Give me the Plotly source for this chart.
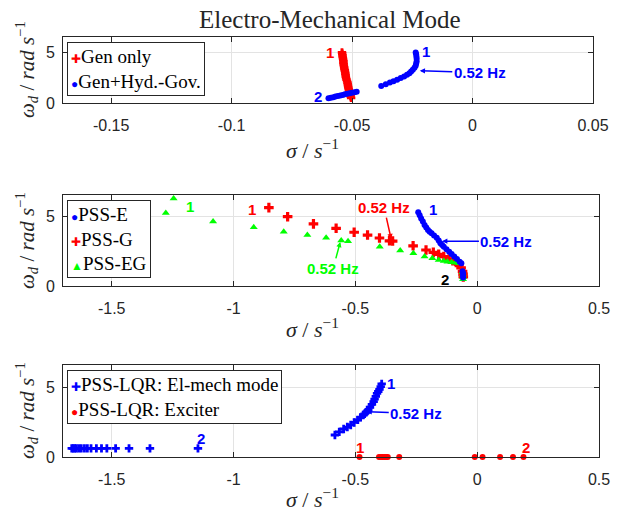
import plotly.graph_objects as go

W, H = 625, 517

# ---------------- data ----------------
# Panel 1: Electro-mechanical mode
gen_only_sigma = [-0.0542, -0.0541, -0.0540, -0.0539, -0.0538, -0.0537, -0.0536, -0.0536, -0.0535, -0.0534,
                  -0.0533, -0.0532, -0.0530, -0.0529, -0.0528, -0.0527, -0.0526, -0.0525, -0.0523, -0.0521,
                  -0.0519, -0.0518, -0.0517, -0.0516, -0.0514, -0.0513, -0.0511, -0.0510, -0.0508, -0.0506, -0.0504]
gen_only_omega = [4.98, 4.85, 4.70, 4.55, 4.40, 4.25, 4.10, 3.95, 3.80, 3.65,
                  3.50, 3.35, 3.20, 3.05, 2.90, 2.75, 2.60, 2.45, 2.30, 2.15,
                  2.00, 1.85, 1.70, 1.55, 1.40, 1.25, 1.10, 0.95, 0.80, 0.65, 0.50]
gen_hyd_sigma = [-0.0236, -0.0234, -0.0233, -0.0232, -0.0232, -0.0234, -0.0236, -0.0241, -0.0248, -0.0255,
                 -0.0262, -0.0272, -0.0284, -0.0298, -0.0313, -0.0328, -0.0343, -0.0360, -0.0379,
                 -0.0481, -0.0490, -0.0500, -0.0510, -0.0520, -0.0530, -0.0539, -0.0549, -0.0559, -0.0569,
                 -0.0578, -0.0588, -0.0598]
gen_hyd_omega = [4.98, 4.80, 4.59, 4.35, 4.09, 3.88, 3.66, 3.47, 3.27, 3.10,
                 2.94, 2.78, 2.61, 2.45, 2.28, 2.14, 2.01, 1.85, 1.68,
                 1.12, 1.07, 1.01, 0.96, 0.90, 0.85, 0.79, 0.74, 0.68, 0.63,
                 0.57, 0.52, 0.46]

# Panel 2: PSS designs
pss_e_sigma = [-0.242, -0.236, -0.230, -0.223, -0.216, -0.209, -0.202, -0.195, -0.187, -0.177,
               -0.166, -0.158, -0.151, -0.144, -0.137, -0.126, -0.115, -0.105, -0.094, -0.083,
               -0.072, -0.065, -0.060, -0.058, -0.058, -0.058]
pss_e_omega = [5.26, 5.05, 4.83, 4.60, 4.36, 4.18, 4.00, 3.88, 3.76, 3.60,
               3.45, 3.25, 3.05, 2.93, 2.81, 2.63, 2.45, 2.28, 2.10, 1.92,
               1.74, 1.62, 1.05, 0.90, 0.75, 0.60]
pss_g_sigma = [-0.855, -0.778, -0.672, -0.579, -0.505, -0.450, -0.401, -0.360, -0.347, -0.263,
               -0.210, -0.180, -0.158, -0.137, -0.115, -0.100, -0.086, -0.075, -0.066, -0.060,
               -0.058, -0.057]
pss_g_omega = [5.60, 4.95, 4.44, 4.12, 3.84, 3.64, 3.43, 3.23, 3.21, 2.87,
               2.57, 2.40, 2.26, 2.10, 1.93, 1.81, 1.69, 1.55, 1.30, 1.05,
               0.85, 0.65]
pss_eg_sigma = [-1.246, -1.278, -1.084, -0.917, -0.794, -0.697, -0.620, -0.558, -0.530, -0.400,
                -0.316, -0.262, -0.216, -0.184, -0.158, -0.137, -0.122, -0.105, -0.090, -0.075,
                -0.060, -0.058, -0.058, -0.058]
pss_eg_omega = [6.25, 5.22, 4.60, 4.19, 3.88, 3.64, 3.45, 3.25, 3.19, 2.81,
                2.54, 2.34, 2.10, 1.98, 1.86, 1.79, 1.74, 1.70, 1.66, 1.62,
                1.00, 0.80, 0.62, 0.48]

# Panel 3: PSS-LQR
lqr_em_sigma = [-0.392, -0.396, -0.401, -0.406, -0.411, -0.416, -0.421, -0.425, -0.432, -0.440,
                -0.447, -0.455, -0.462, -0.468, -0.479, -0.490, -0.505, -0.519, -0.533, -0.548,
                -0.566, -0.584,
                -1.146, -1.343, -1.429, -1.484, -1.520, -1.542, -1.563, -1.585, -1.600, -1.612,
                -1.625, -1.635, -1.645, -1.652, -1.658, -1.664]
lqr_em_omega = [5.24, 5.05, 4.85, 4.70, 4.57, 4.35, 4.15, 3.97, 3.78, 3.57,
                3.37, 3.22, 3.10, 3.01, 2.84, 2.66, 2.48, 2.30, 2.15, 2.01,
                1.80, 1.58,
                0.62, 0.62, 0.62, 0.62, 0.62, 0.62, 0.62, 0.62, 0.62, 0.62,
                0.62, 0.62, 0.62, 0.62, 0.62, 0.62]
lqr_exc_sigma = [-0.483, -0.403, -0.395, -0.388, -0.381, -0.374, -0.367, -0.320, -0.010, 0.022, 0.094, 0.147, 0.190]
lqr_exc_omega = [0, 0, 0, 0, 0, 0, 0, 0, 0, 0, 0, 0, 0]

# ticks
p1_xticks = [-0.15, -0.1, -0.05, 0, 0.05]
p1_xticklabels = ["-0.15", "-0.1", "-0.05", "0", "0.05"]
p23_xticks = [-1.5, -1, -0.5, 0, 0.5]
p23_xticklabels = ["-1.5", "-1", "-0.5", "0", "0.5"]
yticks = [0, 5]
yticklabels = ["0", "5"]

RED, BLUE, GREEN, BLACK = "#ff0000", "#0000ff", "#00ff00", "#000000"
AXC = "#262626"
SERIF = "Liberation Serif"
SANS = "Liberation Sans"

# ---------------- layout geometry (pixels) ----------------
def xdom(l, r):
    return [l / W, r / W]

def ydom(t, b):
    return [1 - b / H, 1 - t / H]

panels = [
    dict(x=xdom(63, 593), y=ydom(37, 103), xr=[-0.17, 0.05], yr=[0, 6.5], xt=p1_xticks, xl=p1_xticklabels),
    dict(x=xdom(63, 599), y=ydom(195, 286), xr=[-1.7, 0.5], yr=[0, 6.5], xt=p23_xticks, xl=p23_xticklabels),
    dict(x=xdom(63, 599), y=ydom(365, 457), xr=[-1.7, 0.5], yr=[0, 6.6], xt=p23_xticks, xl=p23_xticklabels),
]

fig = go.Figure()

def add(xs, ys, name, color, symbol, size, k):
    fig.add_trace(go.Scatter(
        x=xs, y=ys, mode="markers", name=name, showlegend=False, cliponaxis=False,
        marker=dict(color=color, symbol=symbol, size=size, line=dict(width=0)),
        xaxis="x" if k == 1 else f"x{k}", yaxis="y" if k == 1 else f"y{k}",
    ))

add(gen_only_sigma, gen_only_omega, "Gen only", RED, "cross", 7, 1)
add(gen_hyd_sigma, gen_hyd_omega, "Gen+Hyd.-Gov.", BLUE, "circle", 6, 1)
add(pss_g_sigma, pss_g_omega, "PSS-G", RED, "cross", 8, 2)
add(pss_eg_sigma, pss_eg_omega, "PSS-EG", GREEN, "triangle-up", 7, 2)
add(pss_e_sigma, pss_e_omega, "PSS-E", BLUE, "circle", 6, 2)
add(lqr_em_sigma, lqr_em_omega, "PSS-LQR: El-mech mode", BLUE, "cross", 7, 3)
add(lqr_exc_sigma, lqr_exc_omega, "PSS-LQR: Exciter", RED, "circle", 6, 3)

layout = dict(
    width=W, height=H, margin=dict(l=0, r=0, t=0, b=0),
    paper_bgcolor="white", plot_bgcolor="white", showlegend=False,
    font=dict(family=SANS, size=16, color=AXC),
)
for i, p in enumerate(panels, start=1):
    sx = "" if i == 1 else str(i)
    layout["xaxis" + sx] = dict(
        domain=p["x"], range=p["xr"], anchor="y" + sx, tickmode="array", tickvals=p["xt"], ticktext=p["xl"],
        showgrid=True, gridcolor="#e3e3e3", gridwidth=1, zeroline=False,
        showline=True, linecolor=AXC, linewidth=1, mirror="ticks",
        ticks="inside", ticklen=5, tickcolor=AXC, tickwidth=1, ticklabelstandoff=8,
        tickfont=dict(family=SANS, size=16, color=AXC), automargin=False,
    )
    layout["yaxis" + sx] = dict(
        domain=p["y"], range=p["yr"], anchor="x" + sx, tickmode="array", tickvals=yticks, ticktext=yticklabels,
        showgrid=True, gridcolor="#e3e3e3", gridwidth=1, zeroline=False,
        showline=True, linecolor=AXC, linewidth=1, mirror="ticks",
        ticks="inside", ticklen=5, tickcolor=AXC, tickwidth=1, ticklabelstandoff=4,
        tickfont=dict(family=SANS, size=16, color=AXC), automargin=False,
    )
fig.update_layout(**layout)

ann = []
# title
ann.append(dict(text="Electro-Mechanical Mode", x=330 / W, y=1 - 20 / H, xref="paper", yref="paper",
                showarrow=False, font=dict(family=SERIF, size=25, color=AXC), xanchor="center", yanchor="middle"))

# axis titles
xlab = "<i>σ</i> / <i>s</i><sup>−1</sup>"
ylab = "<i>ω</i><sub><i>d</i></sub> / <i>rad s</i><sup>−1</sup>"
for (cx, cy) in [(312, 149), (312, 328), (312, 498)]:
    ann.append(dict(text=xlab, x=cx / W, y=1 - cy / H, xref="paper", yref="paper", showarrow=False,
                    font=dict(family=SERIF, size=22, color=AXC), xanchor="center", yanchor="middle"))
for cy in [70, 241, 411]:
    ann.append(dict(text=ylab, x=26 / W, y=1 - cy / H, xref="paper", yref="paper", showarrow=False,
                    textangle=-90, font=dict(family=SERIF, size=21, color=AXC), xanchor="center", yanchor="middle"))

# point labels
def lab(t, x, y, c, k, size=15):
    sx = "" if k == 1 else str(k)
    ann.append(dict(text=f"<b>{t}</b>", x=x, y=y, xref="x" + sx, yref="y" + sx, showarrow=False,
                    font=dict(family=SANS, size=size, color=c), xanchor="center", yanchor="middle"))

lab("1", -0.059, 4.98, RED, 1)
lab("1", -0.0192, 5.08, BLUE, 1)
lab("2", -0.0641, 0.63, BLUE, 1)
lab("1", -1.18, 5.67, GREEN, 2)
lab("1", -0.925, 5.43, RED, 2)
lab("1", -0.18, 5.5, BLUE, 2)
lab("2", -0.133, 0.48, BLACK, 2)
lab("1", -0.353, 5.24, BLUE, 3)
lab("2", -1.134, 1.34, BLUE, 3)
lab("1", -0.483, 0.69, RED, 3)
lab("2", 0.2, 0.69, RED, 3)

# 0.52 Hz arrows
def hz(tx, ty, px, py, c, k):
    sx = "" if k == 1 else str(k)
    ann.append(dict(text="<b>0.52 Hz</b>", x=px, y=py, ax=tx, ay=ty, xref="x" + sx, yref="y" + sx,
                    axref="x" + sx, ayref="y" + sx, showarrow=True, arrowhead=2, arrowsize=0.7,
                    arrowwidth=1.5, arrowcolor=c, font=dict(family=SANS, size=15, color=c)))

hz(0.0030, 3.0, -0.0219, 3.17, BLUE, 1)
hz(0.120, 3.2, -0.144, 3.2, BLUE, 2)
hz(-0.382, 5.6, -0.353, 3.35, RED, 2)
hz(-0.591, 1.26, -0.562, 3.15, GREEN, 2)
hz(-0.250, 3.13, -0.454, 3.25, BLUE, 3)

# legends (boxed, MATLAB-style)
def legend(rows, left, top):
    txt = "<br>".join(f"<span style='color:{c};font-size:12px'>{g}</span>{t}" for g, c, t in rows)
    ann.append(dict(text=txt, x=left / W, y=1 - top / H, xref="paper", yref="paper", showarrow=False,
                    xanchor="left", yanchor="top", align="left", bgcolor="white", bordercolor=AXC,
                    borderwidth=1, borderpad=3, font=dict(family=SERIF, size=19, color=BLACK)))

legend([("✚", RED, "Gen only"), ("●", BLUE, "Gen+Hyd.-Gov.")], 67, 42)
legend([("●", BLUE, "PSS-E"), ("✚", RED, "PSS-G"), ("▲", GREEN, "PSS-EG")], 67, 200)
legend([("✚", BLUE, "PSS-LQR: El-mech mode"), ("●", RED, "PSS-LQR: Exciter")], 67, 370)

fig.update_layout(annotations=ann)
fig.write_html("out.html", config={"displayModeBar": False},
               post_script="document.body.style.margin='0px';document.body.style.padding='0px';")
